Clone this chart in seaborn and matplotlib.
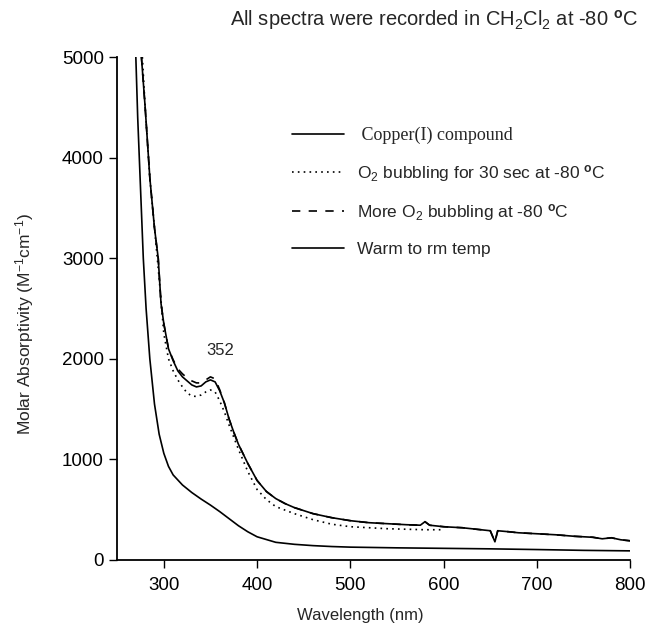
import matplotlib
matplotlib.use("Agg")
import matplotlib.pyplot as plt
import seaborn as sns
import pandas as pd

# ---- data ----
cu_x = [270, 272, 275, 278, 281, 285, 290, 295, 300, 305, 310, 320, 330, 340, 350, 360,
        370, 380, 390, 400, 420, 440, 460, 480, 500, 550, 600, 650, 700, 750, 800]
cu_y = [5000, 4400, 3700, 3000, 2500, 2000, 1550, 1250, 1060, 930, 845, 745, 670, 605, 545, 480,
        410, 340, 280, 230, 175, 155, 142, 133, 127, 120, 115, 110, 103, 95, 90]

o2_x = [277, 280, 285, 290, 295, 300, 305, 310, 315, 320, 325, 330, 335, 340, 345, 350, 355,
        360, 365, 370, 380, 390, 400, 410, 420, 440, 460, 480, 500, 520, 540, 560, 580, 600]
o2_y = [5000, 4500, 3800, 3300, 2800, 2250, 2000, 1880, 1790, 1720, 1660, 1630, 1625, 1640,
        1670, 1690, 1670, 1580, 1470, 1340, 1100, 880, 700, 600, 530, 460, 400, 355, 330,
        320, 310, 305, 300, 300]

more_x = [276, 280, 285, 290, 294, 297, 300, 305, 310, 315, 320, 325, 330, 335, 340, 345,
          350, 355, 360, 365, 370, 375, 380, 390, 400, 410, 420, 430, 440, 450, 460, 480,
          500, 520, 540, 560, 575, 580, 585, 600, 620, 640, 650, 655, 658, 670, 680, 700,
          720, 740, 760, 770, 780, 790, 800]
more_y = [5000, 4500, 3800, 3300, 3000, 2550, 2350, 2100, 1990, 1900, 1850, 1810, 1780, 1760,
          1760, 1790, 1820, 1800, 1690, 1560, 1400, 1270, 1150, 960, 790, 680, 610, 560, 520,
          490, 460, 420, 390, 370, 360, 350, 345, 380, 345, 330, 320, 300, 290, 180, 290, 280,
          270, 260, 250, 235, 225, 210, 220, 200, 190]

warm_x = more_x
warm_y = [5000, 4500, 3800, 3300, 3000, 2550, 2350, 2100, 1980, 1880, 1820, 1780, 1740, 1720,
          1730, 1770, 1790, 1770, 1680, 1560, 1400, 1270, 1150, 960, 790, 680, 610, 560, 520,
          490, 460, 420, 390, 370, 360, 350, 345, 380, 345, 330, 320, 300, 290, 180, 290, 280,
          270, 260, 250, 235, 225, 210, 220, 200, 190]

labels = [" Copper(I) compound",
          r"O$_2$ bubbling for 30 sec at -80 $^{\mathbf{o}}$C",
          r"More O$_2$ bubbling at -80 $^{\mathbf{o}}$C",
          "Warm to rm temp"]
x_ticks = [300, 400, 500, 600, 700, 800]
y_ticks = [0, 1000, 2000, 3000, 4000, 5000]

# ---- plot ----
sns.set_theme(style="ticks")
plt.rcParams["font.family"] = ["Liberation Sans", "DejaVu Sans"]
plt.rcParams["mathtext.fontset"] = "custom"
plt.rcParams["mathtext.rm"] = "Liberation Sans"
plt.rcParams["mathtext.it"] = "Liberation Sans"
plt.rcParams["mathtext.bf"] = "Liberation Sans:bold"

fig = plt.figure(figsize=(6.51, 6.27), dpi=100)
ax = fig.add_axes([0.180, 0.107, 0.788, 0.802])

series = [(cu_x, cu_y, "-", labels[0]),
          (o2_x, o2_y, (0, (1, 2.5)), labels[1]),
          (more_x, more_y, (0, (5, 5)), labels[2]),
          (warm_x, warm_y, "-", labels[3])]
for xs, ys, ls, lab in series:
    df = pd.DataFrame({"x": xs, "y": ys})
    sns.lineplot(data=df, x="x", y="y", ax=ax, color="black", linewidth=1.2,
                 linestyle=ls, label=lab, sort=False, estimator=None)

ax.set_xlim(250, 800)
ax.set_ylim(0, 5000)
ax.set_xticks(x_ticks)
ax.set_yticks(y_ticks)
ax.tick_params(axis="both", direction="out", length=6, width=1, labelsize=13.5, colors="black")
ax.tick_params(axis="x", pad=6)
for s in ["top", "right"]:
    ax.spines[s].set_visible(False)
for s in ["left", "bottom"]:
    ax.spines[s].set_linewidth(1.3)
    ax.spines[s].set_color("black")

ax.set_xlabel("Wavelength (nm)", fontsize=12)
ax.xaxis.set_label_coords(0.474, -0.095)
ax.set_ylabel(r"Molar Absorptivity (M$^{\mathregular{-1}}$cm$^{\mathregular{-1}}$)", fontsize=12.5)
ax.yaxis.set_label_coords(-0.158, 0.47)

leg = ax.legend(loc="upper left", bbox_to_anchor=(0.311, 0.892), frameon=False,
                handlelength=3.0, handletextpad=0.75, labelspacing=1.06, fontsize=12.5)
leg.get_texts()[0].set_family(["Liberation Serif", "DejaVu Serif"])
leg.get_texts()[0].set_fontsize(13)

ax.text(360, 2010, "352", fontsize=12, ha="center", va="bottom")
fig.text(0.98, 0.968, r"All spectra were recorded in CH$_2$Cl$_2$ at -80 $^{\mathbf{o}}$C",
         fontsize=14.5, ha="right", va="center")

fig.savefig("out.png", dpi=100)
